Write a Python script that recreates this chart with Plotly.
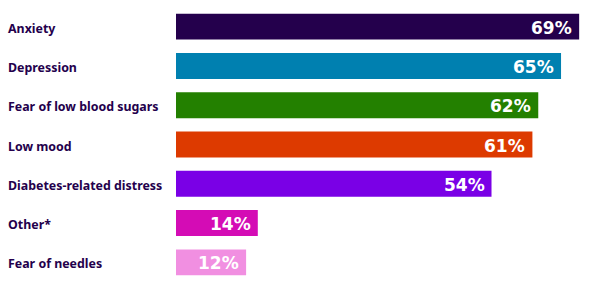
import plotly.graph_objects as go

categories = ["Anxiety", "Depression", "Fear of low blood sugars", "Low mood",
              "Diabetes-related distress", "Other*", "Fear of needles"]
values = [69, 65.9, 62, 61, 54, 14, 12]
value_labels = ["69%", "65%", "62%", "61%", "54%", "14%", "12%"]
colors = ["#24004c", "#0080b0", "#238000", "#dd3a00", "#7a00e6", "#d40cb5", "#f18fe1"]

L, R, T, B = 176, 6, 7, 8
W, H = 591, 290
plot_w = W - L - R

fig = go.Figure(go.Bar(
    y=categories, x=values, orientation="h",
    marker=dict(color=colors, line=dict(width=0)),
    hoverinfo="skip",
))

for c, v, t in zip(categories, values, value_labels):
    fig.add_annotation(
        x=-(L - 7) / plot_w, xref="paper", y=c, yref="y", yshift=-1.5,
        text=f"<b>{c}</b>", showarrow=False, xanchor="left", borderpad=0,
        font=dict(family="Noto Sans", size=12.4, color="#24004c"),
    )
    fig.add_annotation(
        x=v, xref="x", y=c, yref="y", yshift=-1,
        text=f"<b>{t}</b>", showarrow=False, xanchor="right", xshift=-6, borderpad=0,
        font=dict(family="DejaVu Sans", size=17, color="white"),
    )

fig.update_layout(
    width=W, height=H, margin=dict(l=L, r=R, t=T, b=B),
    paper_bgcolor="white", plot_bgcolor="white",
    bargap=0.34, showlegend=False,
    xaxis=dict(range=[0, 70], visible=False),
    yaxis=dict(autorange="reversed", showticklabels=False, showgrid=False,
               zeroline=False, showline=False, ticks=""),
)

fig.write_html("out.html")
